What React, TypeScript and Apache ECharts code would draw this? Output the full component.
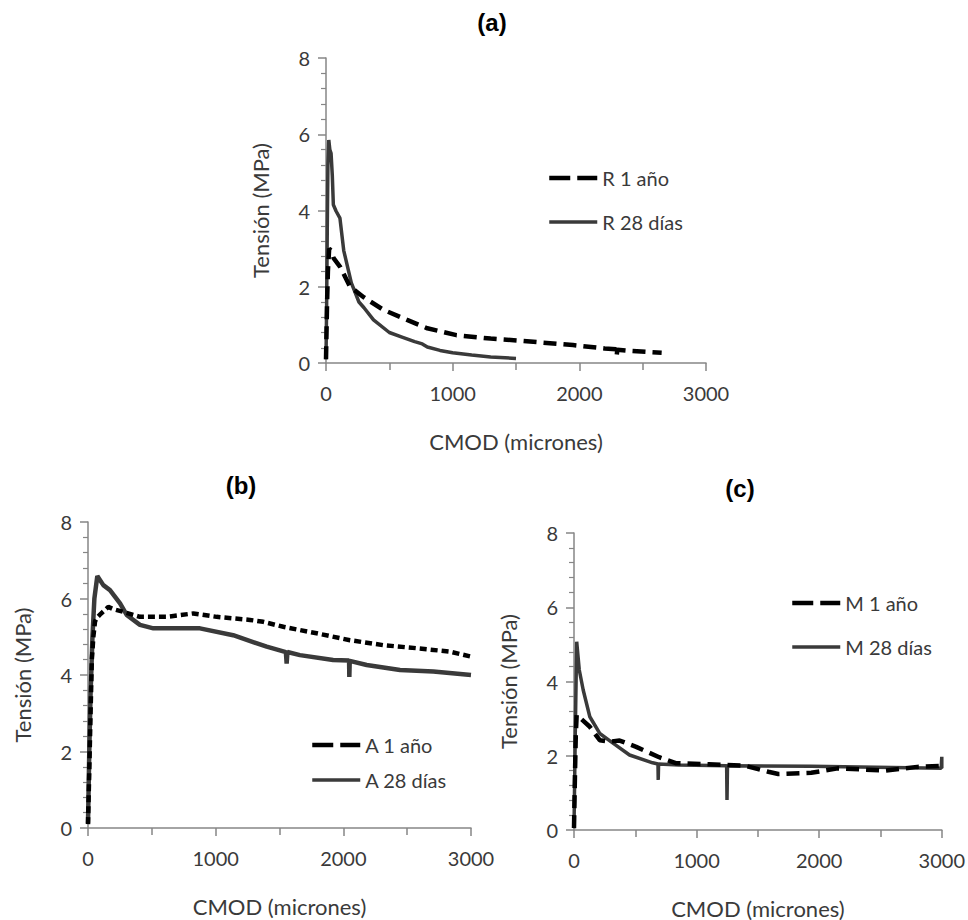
import React, { useEffect, useRef } from "react";
import * as echarts from "echarts";

const X_TICKS = [0, 1000, 2000, 3000];
const Y_TICKS = [0, 2, 4, 6, 8];

const R1: number[][] = [[0,0.1],[8,1.5],[15,2.4],[25,3.0],[40,2.95],[60,2.75],[110,2.53],[190,2.0],[300,1.72],[450,1.4],[640,1.13],[800,0.91],[1030,0.73],[1300,0.64],[1550,0.58],[1950,0.47],[2200,0.38],[2290,0.36],[2295,0.2],[2300,0.35],[2400,0.32],[2650,0.27]];
const R28: number[][] = [[0,0.1],[5,1.5],[10,3.5],[15,5.2],[22,5.85],[30,5.6],[40,5.5],[50,4.9],[58,4.15],[80,3.98],[110,3.8],[140,2.95],[200,2.1],[260,1.6],[300,1.45],[375,1.13],[500,0.8],[600,0.68],[700,0.56],[760,0.5],[800,0.42],[900,0.33],[1000,0.27],[1150,0.21],[1300,0.16],[1500,0.12]];
const A1: number[][] = [[0,0.1],[10,1.5],[20,3],[30,4.4],[42,5.0],[55,5.4],[68,5.49],[100,5.6],[159,5.78],[200,5.72],[277,5.65],[407,5.52],[616,5.52],[825,5.61],[1008,5.52],[1269,5.44],[1373,5.39],[1530,5.26],[1791,5.09],[2052,4.91],[2313,4.78],[2575,4.7],[2836,4.61],[3000,4.48]];
const A28: number[][] = [[0,0.12],[10,2.0],[20,3.5],[35,5.0],[50,6.0],[73,6.59],[120,6.35],[172,6.22],[251,5.87],[303,5.57],[407,5.31],[512,5.22],[877,5.22],[1137,5.04],[1400,4.74],[1550,4.6],[1556,4.3],[1562,4.6],[1660,4.52],[1920,4.39],[2045,4.38],[2047,3.95],[2050,4.37],[2183,4.26],[2444,4.13],[2705,4.09],[3000,4.0]];
const M1: number[][] = [[0,0.05],[8,1.5],[15,2.6],[22,3.1],[129,2.78],[210,2.42],[291,2.38],[372,2.41],[507,2.24],[695,1.96],[830,1.8],[1100,1.77],[1396,1.73],[1585,1.57],[1666,1.51],[1935,1.54],[2151,1.66],[2540,1.6],[2800,1.7],[3000,1.73]];
const M28: number[][] = [[0,0.05],[10,2.5],[22,5.07],[43,4.31],[75,3.77],[129,3.05],[210,2.6],[318,2.34],[453,2.02],[641,1.81],[685,1.78],[687,1.35],[690,1.78],[857,1.75],[1245,1.73],[1248,0.81],[1252,1.73],[1935,1.72],[2995,1.66],[3000,1.97],[3000,1.66]];

const PANELS = ["(a)", "(b)", "(c)"];
const NAMES = [["R 1 año", "R 28 días"], ["A 1 año", "A 28 días"], ["M 1 año", "M 28 días"]];
const DATA = [[R1, R28], [A1, A28], [M1, M28]];
const X_NAME = "CMOD (micrones)";
const Y_NAME = "Tensión (MPa)";

const FONT = "Lato";
const AXIS_COLOR = "#868686";
const TEXT_COLOR = "#3a3a3a";

export default function App() {
  const ref = useRef<HTMLDivElement>(null);
  useEffect(() => {
    if (!ref.current) return;
    const chart = echarts.init(ref.current, undefined, { renderer: "svg" });
    const grids = [
      { left: 326, top: 58, width: 380, height: 305 },
      { left: 88, top: 522, width: 383, height: 306 },
      { left: 574, top: 533, width: 371, height: 297 },
    ];
    const titles = [
      { left: 487, top: 5 },
      { left: 236, top: 468 },
      { left: 735, top: 471 },
    ];
    const legends = [
      { left: 542, top: 163, itemGap: 24 },
      { left: 305, top: 730, itemGap: 15 },
      { left: 785, top: 588, itemGap: 24 },
    ];
    const dashes = [[13, 7], [7, 4], [13, 7]];
    const legendDash = [21, 7];
    const axisCommon = {
      axisLine: { show: true, lineStyle: { color: AXIS_COLOR, width: 1.5 } },
      axisTick: { show: true, inside: false, length: 8, lineStyle: { color: AXIS_COLOR, width: 1.5 } },
      splitLine: { show: false },
      nameTextStyle: { fontFamily: FONT, fontSize: 22, color: TEXT_COLOR },
    };
    const option: any = {
      animation: false,
      backgroundColor: "#ffffff",
      title: PANELS.map((t, i) => ({
        text: t,
        left: titles[i].left,
        top: titles[i].top,
        textAlign: "center",
        textStyle: { fontFamily: "Liberation Sans", fontWeight: "bold", fontSize: 24, color: "#000" },
      })),
      legend: NAMES.map((n, i) => ({
        data: [
          { name: n[0], lineStyle: { width: 4.5, type: legendDash } },
          { name: n[1], lineStyle: { width: 3.5 } },
        ],
        orient: "vertical",
        left: legends[i].left,
        top: legends[i].top,
        itemGap: legends[i].itemGap,
        itemWidth: 48,
        itemHeight: 20,
        itemStyle: { opacity: 0 },
        textStyle: { fontFamily: FONT, fontSize: 20, color: TEXT_COLOR, lineHeight: 20 },
      })),
      grid: grids.map((g) => ({ ...g, containLabel: false })),
      xAxis: grids.map((_, i) => ({
        ...axisCommon,
        type: "value",
        gridIndex: i,
        min: X_TICKS[0],
        max: X_TICKS[X_TICKS.length - 1],
        interval: X_TICKS[1] - X_TICKS[0],
        name: X_NAME,
        nameLocation: "middle",
        nameGap: 67,
        minorTick: { show: true, splitNumber: 2, length: 7, lineStyle: { color: AXIS_COLOR, width: 1.5 } },
        axisLabel: { fontFamily: FONT, fontSize: 20, color: TEXT_COLOR, margin: 20, formatter: (v: number) => String(v) },
      })),
      yAxis: grids.map((_, i) => ({
        ...axisCommon,
        type: "value",
        gridIndex: i,
        min: Y_TICKS[0],
        max: Y_TICKS[Y_TICKS.length - 1],
        interval: Y_TICKS[1] - Y_TICKS[0],
        name: Y_NAME,
        nameLocation: "middle",
        nameGap: 55,
        minorTick: { show: true, splitNumber: 5, length: 5, lineStyle: { color: AXIS_COLOR, width: 1.2 } },
        axisLabel: { fontFamily: FONT, fontSize: 20, color: TEXT_COLOR, margin: 16, formatter: (v: number) => String(v) },
      })),
      series: DATA.flatMap((pair, i) => [
        {
          type: "line",
          name: NAMES[i][0],
          xAxisIndex: i,
          yAxisIndex: i,
          data: pair[0],
          symbol: "none",
          z: 3,
          lineStyle: { color: "#000000", width: 4.5, type: dashes[i] },
          itemStyle: { color: "#000000" },
        },
        {
          type: "line",
          name: NAMES[i][1],
          xAxisIndex: i,
          yAxisIndex: i,
          data: pair[1],
          symbol: "none",
          z: 2,
          lineStyle: { color: "#3a3a3a", width: i === 1 ? 4.5 : 3.5, type: "solid" },
          itemStyle: { color: "#3a3a3a" },
        },
      ]),
    };
    chart.setOption(option);
    return () => chart.dispose();
  }, []);
  return (
    <div
      ref={ref}
      style={{ position: "absolute", left: 0, top: 0, width: 968, height: 920 }}
    />
  );
}
